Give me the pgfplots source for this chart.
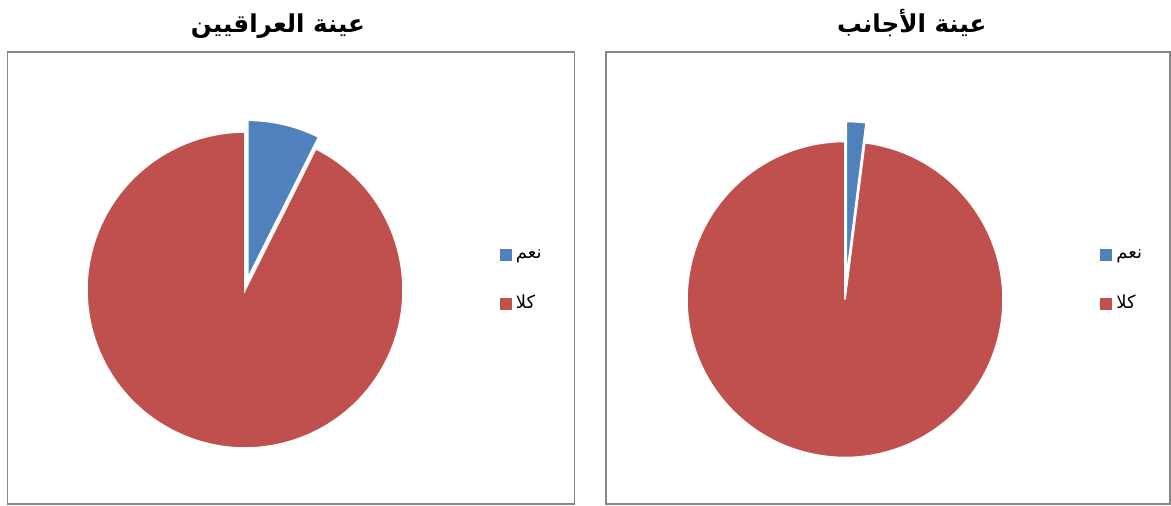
\documentclass[border=0pt]{standalone}
\usepackage{pgfplots}
\pgfplotsset{compat=1.18}
\usepackage{pgfplotstable}
\usepackage{fontspec}
\setmainfont{DejaVu Sans}
\newfontfamily\arabicfont[Script=Arabic]{DejaVu Sans}
\TeXXeTstate=1
\definecolor{sliceblue}{RGB}{79,129,189}
\definecolor{slicered}{RGB}{192,80,77}
\definecolor{framegray}{RGB}{134,134,134}

% share of answers (percent): yes / no
\pgfplotstableread{
label value
yes 7.4
no 92.6
}\iraqi
\pgfplotstableread{
label value
yes 2.0
no 98.0
}\foreign

\pgfplotstablegetelem{0}{value}\of\iraqi \pgfmathsetmacro\yesA{\pgfplotsretval}
\pgfplotstablegetelem{1}{value}\of\iraqi \pgfmathsetmacro\noA{\pgfplotsretval}
\pgfplotstablegetelem{0}{value}\of\foreign \pgfmathsetmacro\yesB{\pgfplotsretval}
\pgfplotstablegetelem{1}{value}\of\foreign \pgfmathsetmacro\noB{\pgfplotsretval}
\pgfmathsetmacro\endA{90-360*\yesA/(\yesA+\noA)}
\pgfmathsetmacro\midA{90-180*\yesA/(\yesA+\noA)}
\pgfmathsetmacro\endB{90-360*\yesB/(\yesB+\noB)}
\pgfmathsetmacro\midB{90-180*\yesB/(\yesB+\noB)}

\pgfplotsset{
  panel/.style={
    scale only axis, x=0.5pt, y=0.5pt,
    ymin=0, ymax=452,
    axis line style={draw=framegray, line width=0.8pt},
    xtick=\empty, ytick=\empty,
    clip=false,
    title style={font=\arabicfont\bfseries\fontsize{12.3}{14}\selectfont, anchor=base, yshift=3.5pt},
    legend style={draw=none, fill=none, inner sep=0pt, row sep=13pt,
      font=\arabicfont\fontsize{9}{10}\selectfont, legend cell align=left},
    legend image code/.code={\fill[##1, draw=none] (0pt,-3pt) rectangle (6pt,3pt);},
  }
}

\begin{document}
\begin{tikzpicture}
\useasboundingbox (0,0) rectangle (585.5pt,253pt);
% left panel
\begin{axis}[panel, at={(3.75pt,1pt)}, anchor=south west,
  xmin=0, xmax=567,
  title={\beginR عينة العراقيين\endR}, title style={at={(0.477,1)}},
  legend style={at={(axis cs:492,259)}, anchor=north west}]
\addlegendimage{fill=sliceblue}
\addlegendentry{\beginR نعم\endR}
\addlegendimage{fill=slicered}
\addlegendentry{\beginR كلا\endR}
\fill[slicered, draw=white, line width=0.8pt] (axis cs:237.5,214) -- ++(\endA:79pt) arc[start angle=\endA, end angle=-270, radius=79pt] -- cycle;
\fill[sliceblue, draw=white, line width=0.8pt, shift={(\midA:6pt)}] (axis cs:237.5,214) -- ++(90:79pt) arc[start angle=90, end angle=\endA, radius=79pt] -- cycle;
\end{axis}
% right panel
\begin{axis}[panel, at={(303pt,1pt)}, anchor=south west,
  xmin=0, xmax=564,
  title={\beginR عينة الأجانب\endR}, title style={at={(0.542,1)}},
  legend style={at={(axis cs:494,259)}, anchor=north west}]
\addlegendimage{fill=sliceblue}
\addlegendentry{\beginR نعم\endR}
\addlegendimage{fill=slicered}
\addlegendentry{\beginR كلا\endR}
\fill[slicered, draw=white, line width=0.8pt] (axis cs:239,204.5) -- ++(\endB:79pt) arc[start angle=\endB, end angle=-270, radius=79pt] -- cycle;
\fill[sliceblue, draw=white, line width=0.8pt, shift={(\midB:10pt)}] (axis cs:239,204.5) -- ++(90:79pt) arc[start angle=90, end angle=\endB, radius=79pt] -- cycle;
\end{axis}
\end{tikzpicture}
\end{document}
